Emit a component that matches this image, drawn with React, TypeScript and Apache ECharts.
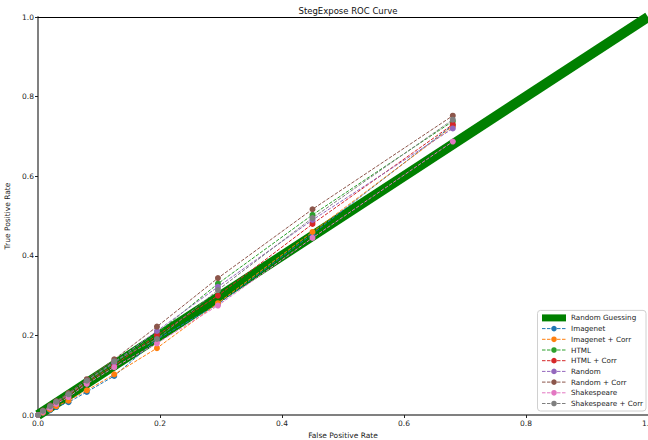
import React, { useEffect, useRef } from "react";
import * as echarts from "echarts";

const fpr = [0, 0.008, 0.02, 0.03, 0.05, 0.08, 0.125, 0.195, 0.295, 0.45, 0.68];

const seriesNames = [
  "Imagenet",
  "Imagenet + Corr",
  "HTML",
  "HTML + Corr",
  "Random",
  "Random + Corr",
  "Shakespeare",
  "Shakespeare + Corr",
];

const seriesColors = ["#1f77b4", "#ff7f0e", "#2ca02c", "#d62728", "#9467bd", "#8c564b", "#e377c2", "#7f7f7f"];

const imagenet = [0, 0.005, 0.012, 0.02, 0.032, 0.058, 0.098, 0.19, 0.278, 0.455, 0.728];
const imagenetCorr = [0, 0.006, 0.014, 0.022, 0.036, 0.062, 0.102, 0.168, 0.281, 0.46, 0.725];
const html = [0, 0.01, 0.022, 0.033, 0.052, 0.085, 0.13, 0.205, 0.33, 0.503, 0.738];
const htmlCorr = [0, 0.009, 0.02, 0.03, 0.05, 0.082, 0.125, 0.2, 0.3, 0.48, 0.73];
const random = [0, 0.01, 0.021, 0.032, 0.052, 0.086, 0.132, 0.211, 0.322, 0.49, 0.72];
const randomCorr = [0, 0.011, 0.024, 0.035, 0.055, 0.09, 0.14, 0.222, 0.344, 0.517, 0.752];
const shakespeare = [0, 0.008, 0.018, 0.028, 0.045, 0.078, 0.12, 0.18, 0.275, 0.445, 0.687];
const shakespeareCorr = [0, 0.01, 0.022, 0.033, 0.052, 0.086, 0.135, 0.191, 0.314, 0.495, 0.742];

const tprValues = [imagenet, imagenetCorr, html, htmlCorr, random, randomCorr, shakespeare, shakespeareCorr];

const guessX = [0, 1];
const guessY = [0, 1];

const FONT = "DejaVu Sans";

export default function App() {
  const ref = useRef<HTMLDivElement>(null);
  useEffect(() => {
    if (!ref.current) return;
    const chart = echarts.init(ref.current, null, { renderer: "svg" });
    const axisLabel = {
      fontSize: 7.5,
      color: "#222",
      fontFamily: FONT,
      margin: 4,
      formatter: (v: number) => v.toFixed(1),
    };
    const series: any[] = [
      {
        name: "Random Guessing",
        type: "line",
        data: guessX.map((x, i) => [x, guessY[i]]),
        symbol: "none",
        lineStyle: { color: "#008000", width: 10 },
        itemStyle: { color: "#008000" },
        z: 1,
      },
    ];
    seriesNames.forEach((name, i) => {
      series.push({
        name,
        type: "line",
        data: fpr.map((x, j) => [x, tprValues[i][j]]),
        symbol: "circle",
        symbolSize: 6,
        lineStyle: { color: seriesColors[i], width: 1, type: [3.5, 1.5] },
        itemStyle: { color: seriesColors[i] },
        z: 2 + i,
      });
    });
    chart.setOption({
      animation: false,
      backgroundColor: "#fff",
      title: {
        text: "StegExpose ROC Curve",
        left: 343,
        top: 1,
        textAlign: "center",
        textStyle: { fontSize: 8.5, fontWeight: "normal", color: "#111", fontFamily: FONT },
      },
      grid: { left: 38, right: 0, top: 17, bottom: 25, containLabel: false, outerBoundsMode: "none" },
      legend: {
        orient: "vertical",
        right: 2,
        bottom: 29,
        itemWidth: 24,
        itemHeight: 7,
        itemGap: 3.7,
        padding: [4, 3, 4, 4],
        backgroundColor: "#fff",
        borderColor: "#d0d0d0",
        borderWidth: 1,
        borderRadius: 3,
        textStyle: { fontSize: 7.2, color: "#222", fontFamily: FONT, lineHeight: 7 },
        lineStyle: { width: 1 },
        data: [
          { name: "Random Guessing", icon: "rect" },
          ...seriesNames.map((n) => ({ name: n })),
        ],
      },
      xAxis: [
        {
          type: "value",
          min: 0,
          max: 1,
          interval: 0.2,
          name: "False Positive Rate",
          nameLocation: "middle",
          nameGap: 14,
          nameTextStyle: { fontSize: 7.5, color: "#222", fontFamily: FONT },
          axisLine: { lineStyle: { color: "#808080", width: 2 } },
          axisTick: { show: true, length: 3, lineStyle: { color: "#222" } },
          axisLabel,
          splitLine: { show: false },
        },
        {
          type: "value",
          position: "top",
          min: 0,
          max: 1,
          axisLine: { show: true, lineStyle: { color: "#000", width: 1 } },
          axisTick: { show: false },
          axisLabel: { show: false },
          splitLine: { show: false },
        },
      ],
      yAxis: {
        type: "value",
        min: 0,
        max: 1,
        interval: 0.2,
        name: "True Positive Rate",
        nameLocation: "middle",
        nameGap: 20,
        nameTextStyle: { fontSize: 7.5, color: "#222", fontFamily: FONT },
        axisLine: { show: true, lineStyle: { color: "#808080", width: 2 } },
        axisTick: { show: true, length: 3, lineStyle: { color: "#222" } },
        axisLabel,
        splitLine: { show: false },
      },
      series,
    });
    return () => chart.dispose();
  }, []);
  return <div ref={ref} style={{ position: "absolute", left: 0, top: 0, width: 648, height: 440 }} />;
}
